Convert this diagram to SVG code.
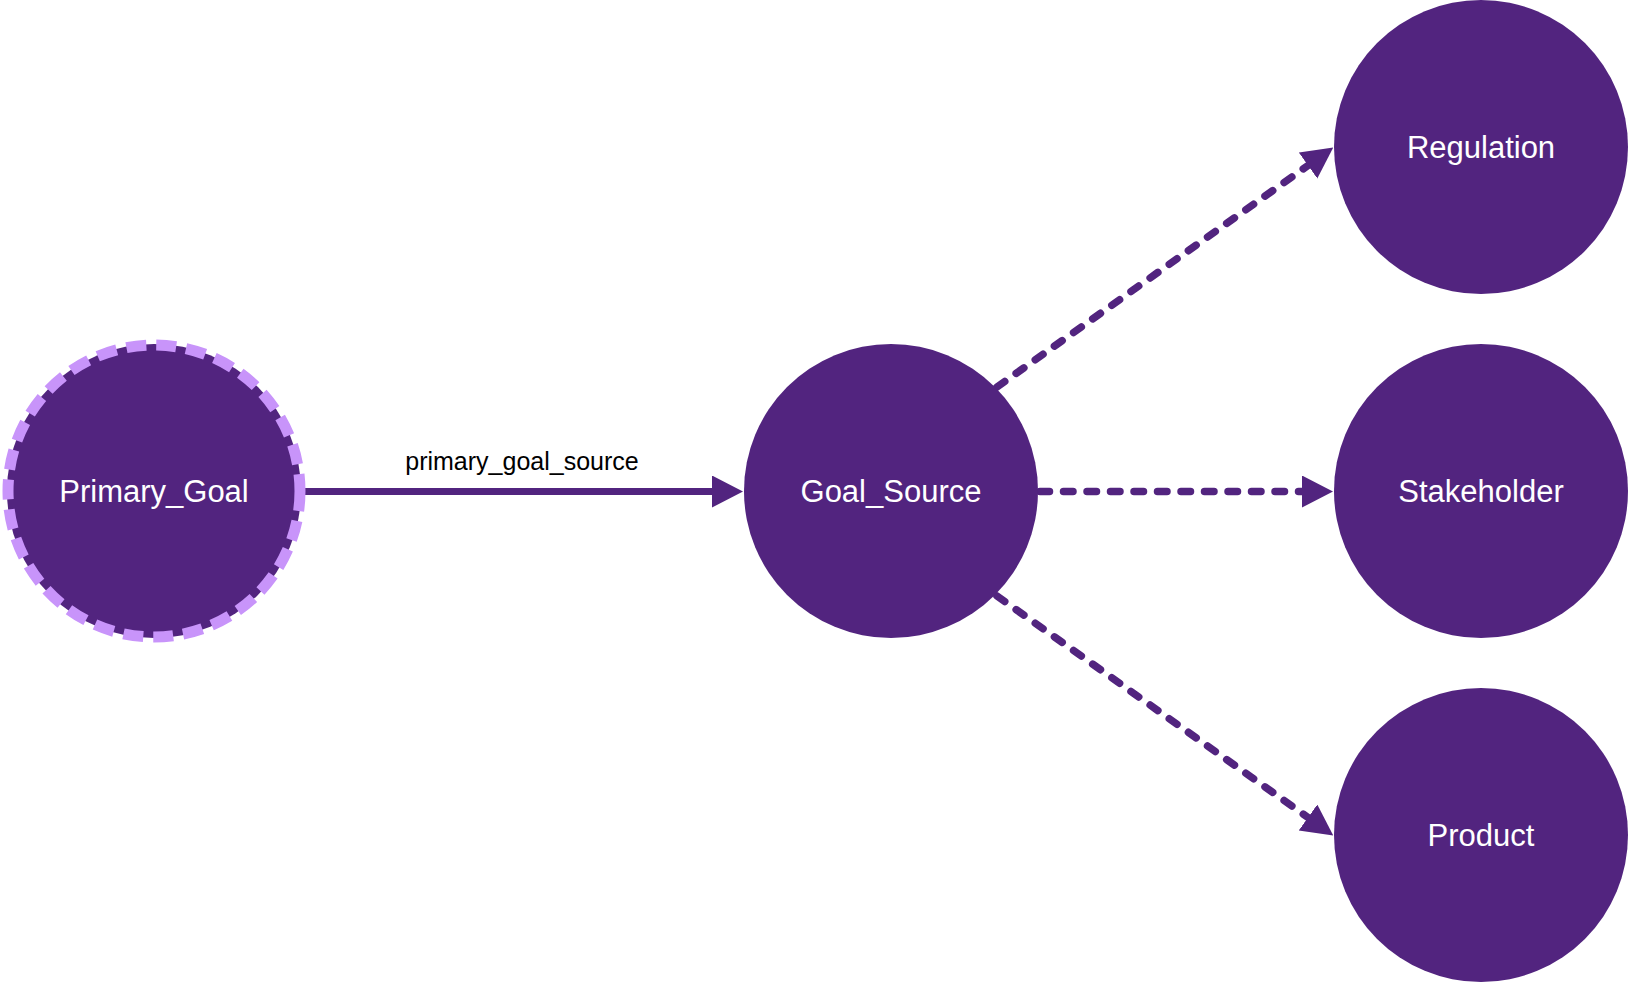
<svg xmlns="http://www.w3.org/2000/svg" width="1631" height="985" viewBox="0 0 1631 985">
<style>
.node{fill:#52247F;}
.nlabel{font-family:"Liberation Sans",Arial,sans-serif;font-size:31px;fill:#FFFFFF;text-anchor:middle;}
.elabel{font-family:"Liberation Sans",Arial,sans-serif;font-size:25px;fill:#000000;text-anchor:middle;}
.solid{stroke:#52247F;stroke-width:7;fill:none;}
.dashed{stroke:#52247F;stroke-width:7.5;fill:none;stroke-dasharray:9.5 14;stroke-linecap:round;}
</style>
<defs>
<marker id="arrow" markerUnits="userSpaceOnUse" markerWidth="31" markerHeight="33" refX="0" refY="16" orient="auto" viewBox="0 0 31 33">
<path d="M0,0 L31,16 L0,32 Z" fill="#52247F"/>
</marker>
</defs>
<rect width="1631" height="985" fill="#FFFFFF"/>
<g id="connectors">
<line class="solid" x1="296" y1="491.5" x2="712" y2="491.5" marker-end="url(#arrow)"/>
<text class="elabel" x="522" y="470">primary_goal_source</text>
<line class="dashed" x1="1040" y1="491.5" x2="1302" y2="491.5" marker-end="url(#arrow)"/>
<line class="dashed" x1="997" y1="387" x2="1308" y2="165.5" marker-end="url(#arrow)"/>
<line class="dashed" x1="997" y1="596" x2="1308" y2="817.5" marker-end="url(#arrow)"/>
</g>
<g id="node-primary-goal">
<circle class="node" cx="154" cy="491" r="147"/>
<circle cx="154" cy="491" r="146" fill="none" stroke="#C894FA" stroke-width="11" stroke-dasharray="20 10"/>
<text class="nlabel" x="154" y="502">Primary_Goal</text>
</g>
<g id="node-goal-source">
<circle class="node" cx="891" cy="491" r="147"/>
<text class="nlabel" x="891" y="502">Goal_Source</text>
</g>
<g id="node-regulation">
<circle class="node" cx="1481" cy="147" r="147"/>
<text class="nlabel" x="1481" y="158">Regulation</text>
</g>
<g id="node-stakeholder">
<circle class="node" cx="1481" cy="491" r="147"/>
<text class="nlabel" x="1481" y="502">Stakeholder</text>
</g>
<g id="node-product">
<circle class="node" cx="1481" cy="835" r="147"/>
<text class="nlabel" x="1481" y="846">Product</text>
</g>
</svg>
